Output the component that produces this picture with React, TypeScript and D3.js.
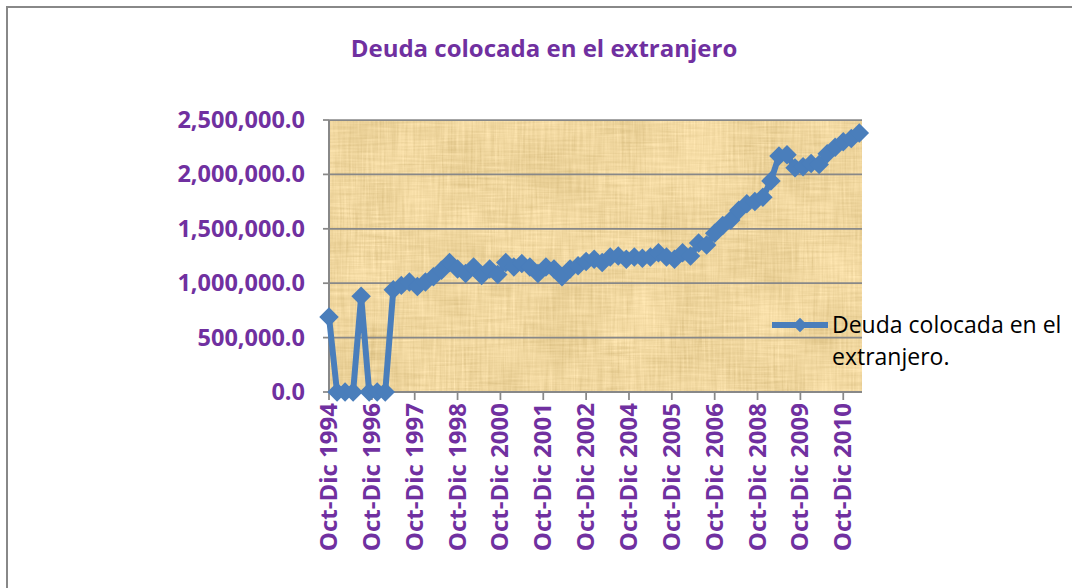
import * as d3 from "d3";

// título y leyenda
const chartTitle = "Deuda colocada en el extranjero";
const legendLines = ["Deuda colocada en el", "extranjero."];

// valores trimestrales desde Oct-Dic 1994
const debtValues = [
  690000, 0, 0, 0, 880000, 0, 0, 0, 940000, 980000,
  1010000, 970000, 1010000, 1060000, 1120000, 1190000, 1130000, 1090000, 1150000, 1070000,
  1130000, 1080000, 1190000, 1150000, 1180000, 1150000, 1090000, 1150000, 1130000, 1060000,
  1130000, 1160000, 1200000, 1220000, 1190000, 1240000, 1250000, 1220000, 1240000, 1230000,
  1240000, 1280000, 1240000, 1220000, 1280000, 1250000, 1370000, 1350000, 1460000, 1530000,
  1580000, 1670000, 1730000, 1750000, 1790000, 1940000, 2170000, 2180000, 2060000, 2070000,
  2100000, 2090000, 2190000, 2250000, 2300000, 2330000, 2380000,
];

// etiquetas del eje de fechas (una cada 16 meses)
const xTickLabels = [
  "Oct-Dic 1994", "Oct-Dic 1996", "Oct-Dic 1997", "Oct-Dic 1998", "Oct-Dic 2000",
  "Oct-Dic 2001", "Oct-Dic 2002", "Oct-Dic 2004", "Oct-Dic 2005", "Oct-Dic 2006",
  "Oct-Dic 2008", "Oct-Dic 2009", "Oct-Dic 2010",
];

const yTickValues = [0, 500000, 1000000, 1500000, 2000000, 2500000];

const MONTHS_PER_POINT = 3;
const MONTHS_PER_LABEL = 16;

const width = 1072;
const height = 588;
const plot = { left: 329, right: 862, top: 120, bottom: 392 };

const purple = "#7030A0";
const blue = "#4A7EBB";
const gray = "#888888";
const font = "'Open Sans', sans-serif";

export default function App() {
  const xScale = d3.scaleLinear().domain([0, 199]).range([plot.left, plot.right]);
  const yScale = d3.scaleLinear().domain([0, 2500000]).range([plot.bottom, plot.top]);

  const lineGen = d3
    .line<number>()
    .x((_, i) => xScale(i * MONTHS_PER_POINT))
    .y((d) => yScale(d));

  const marker = d3.symbol().type(d3.symbolSquare).size(190)() || "";
  const legendMarker = d3.symbol().type(d3.symbolSquare).size(105)() || "";
  const fmt = d3.format(",.1f");

  return (
    <div style={{ position: "absolute", left: 0, top: 0 }}>
      <svg width={width} height={height} style={{ display: "block", background: "#fff" }}>
        <defs>
          <filter id="papyrus" x="0" y="0" width="100%" height="100%" colorInterpolationFilters="sRGB">
            <feTurbulence type="fractalNoise" baseFrequency="0.45 0.025" numOctaves="2" seed="4" result="vert" />
            <feTurbulence type="fractalNoise" baseFrequency="0.025 0.45" numOctaves="2" seed="9" result="horz" />
            <feTurbulence type="fractalNoise" baseFrequency="0.015" numOctaves="3" seed="2" result="blot" />
            <feComposite in="vert" in2="horz" operator="arithmetic" k2="0.5" k3="0.5" result="weave" />
            <feComposite in="weave" in2="blot" operator="arithmetic" k2="0.7" k3="0.3" result="mix" />
            <feColorMatrix
              in="mix"
              type="matrix"
              values="0.28 0 0 0 0.80  0.3 0 0 0 0.69  0.36 0 0 0 0.44  0 0 0 0 1"
            />
          </filter>
        </defs>

        {/* borde del área del gráfico */}
        <rect x={7} y={7} width={1200} height={700} fill="none" stroke={gray} strokeWidth={2} />

        <text x={544} y={57} textAnchor="middle" fontFamily={font} fontWeight={700} fontSize={24} fill={purple}>
          {chartTitle}
        </text>

        {/* fondo tipo papiro */}
        <rect
          x={plot.left}
          y={plot.top}
          width={plot.right - plot.left}
          height={plot.bottom - plot.top}
          filter="url(#papyrus)"
        />

        {/* líneas de cuadrícula y eje Y */}
        {yTickValues.map((v) => (
          <g key={v}>
            <line x1={plot.left} x2={plot.right} y1={yScale(v)} y2={yScale(v)} stroke={gray} strokeWidth={1.75} />
            <line x1={plot.left - 6} x2={plot.left} y1={yScale(v)} y2={yScale(v)} stroke={gray} strokeWidth={1.75} />
            <text
              x={305}
              y={yScale(v) + 8}
              textAnchor="end"
              fontFamily={font}
              fontWeight={700}
              fontSize={23.5}
              fill={purple}
            >
              {fmt(v)}
            </text>
          </g>
        ))}
        <line x1={plot.left} x2={plot.left} y1={plot.top} y2={plot.bottom} stroke={gray} strokeWidth={2} />

        {/* eje X */}
        <line x1={plot.left} x2={plot.right} y1={plot.bottom} y2={plot.bottom} stroke={gray} strokeWidth={2} />
        {xTickLabels.map((label, k) => {
          const tx = xScale(k * MONTHS_PER_LABEL);
          return (
            <g key={label}>
              <line x1={tx} x2={tx} y1={plot.bottom} y2={plot.bottom + 8} stroke={gray} strokeWidth={1.75} />
              <text
                transform={`translate(${tx + 8},403) rotate(-90)`}
                textAnchor="end"
                fontFamily={font}
                fontWeight={700}
                fontSize={24}
                fill={purple}
              >
                {label}
              </text>
            </g>
          );
        })}

        {/* serie */}
        <path d={lineGen(debtValues) || ""} fill="none" stroke={blue} strokeWidth={6} strokeLinejoin="round" />
        {debtValues.map((v, i) => (
          <path
            key={i}
            d={marker}
            transform={`translate(${xScale(i * MONTHS_PER_POINT)},${yScale(v)}) rotate(45)`}
            fill={blue}
          />
        ))}

        {/* leyenda */}
        <line x1={772} x2={828} y1={325} y2={325} stroke={blue} strokeWidth={6} />
        <path d={legendMarker} transform="translate(800,325) rotate(45)" fill={blue} />
        {legendLines.map((t, i) => (
          <text key={t} x={832} y={333 + i * 32} fontFamily={font} fontSize={23} fill="#000">
            {t}
          </text>
        ))}
      </svg>
    </div>
  );
}
